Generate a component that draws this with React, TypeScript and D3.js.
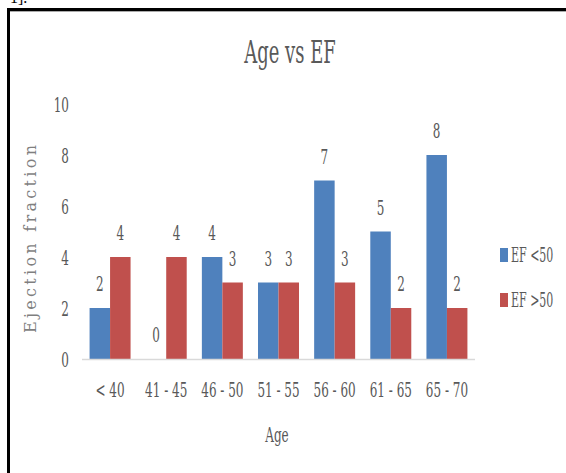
import React from "react";
import * as d3 from "d3";

const categories = ["< 40", "41 - 45", "46 - 50", "51 - 55", "56 - 60", "61 - 65", "65 - 70"];
const seriesNames = ["EF <50", "EF >50"];
const efBelow50 = [2, 0, 4, 3, 7, 5, 8];
const efAbove50 = [4, 4, 3, 3, 3, 2, 2];
const yTicks = [0, 2, 4, 6, 8, 10];
const colors = ["#4F81BD", "#C0504D"];

const W = 566;
const H = 473;
const FONT = "'DejaVu Serif', serif";
const GRAY = "#595959";

type TP = {
  x: number;
  y: number;
  sx?: number;
  size?: number;
  anchor?: "start" | "middle" | "end";
  fill?: string;
  children: React.ReactNode;
};

const T = ({ x, y, sx = 0.6, size = 20, anchor = "middle", fill = GRAY, children }: TP) => (
  <text
    transform={`translate(${x},${y}) scale(${sx},1)`}
    textAnchor={anchor}
    fontSize={size}
    fontFamily={FONT}
    fill={fill}
  >
    {children}
  </text>
);

export default function App() {
  const x = d3.scaleBand<string>().domain(categories).range([82, 475]).paddingInner(0.27).paddingOuter(0.135);
  const xs = d3.scaleBand<string>().domain(seriesNames).range([0, x.bandwidth()]);
  const y = d3.scaleLinear().domain([0, 10]).range([359, 104]);
  const series = [efBelow50, efAbove50];

  return (
    <svg
      width={W}
      height={H}
      style={{ position: "absolute", left: 0, top: 0, background: "#fff" }}
    >
      <rect x={0} y={0} width={W} height={H} fill="#fff" />
      <text x={10} y={3} fontFamily="'Liberation Serif', serif" fontSize={16} fill="#000">1].</text>
      {/* border */}
      <path d={`M8.5,${H} L8.5,9.5 L${W},9.5`} fill="none" stroke="#000" strokeWidth={3} />
      <line x1={10} x2={W} y1={11.5} y2={11.5} stroke="#aaa" strokeWidth={1} />

      {/* title */}
      <T x={290} y={63} size={31} sx={0.58}>Age vs EF</T>

      {/* y axis title */}
      <text
        transform={`translate(36,239) rotate(-90)`}
        textAnchor="middle"
        fontFamily={FONT}
        fontSize={16}
        fill="#7f7f7f"
        textLength={188}
        lengthAdjust="spacing"
      >
        Ejection fraction
      </text>

      {/* y ticks */}
      {yTicks.map((t) => (
        <T key={t} x={69} y={y(t) + 7.5} anchor="end">{t}</T>
      ))}

      {/* bars */}
      {categories.map((c, i) => (
        <g key={c} transform={`translate(${x(c)},0)`}>
          {series.map((s, k) => (
            <g key={k}>
              <rect
                x={xs(seriesNames[k])}
                y={y(s[i])}
                width={xs.bandwidth()}
                height={y(0) - y(s[i])}
                fill={colors[k]}
              />
              <T x={(xs(seriesNames[k]) as number) + xs.bandwidth() / 2} y={y(s[i]) - 17}>
                {s[i]}
              </T>
            </g>
          ))}
        </g>
      ))}

      {/* x axis line */}
      <line x1={82} x2={475} y1={y(0) + 0.5} y2={y(0) + 0.5} stroke="#D9D9D9" strokeWidth={1.5} />

      {/* x ticks */}
      {categories.map((c) => (
        <T key={c} x={(x(c) as number) + x.bandwidth() / 2} y={397}>{c}</T>
      ))}

      {/* x axis title */}
      <T x={277} y={442}>Age</T>

      {/* legend */}
      {seriesNames.map((n, k) => (
        <g key={n}>
          <rect x={500} y={248 + k * 45} width={8} height={14} fill={colors[k]} />
          <T x={511} y={262 + k * 45} anchor="start" sx={0.55}>{n}</T>
        </g>
      ))}
    </svg>
  );
}
